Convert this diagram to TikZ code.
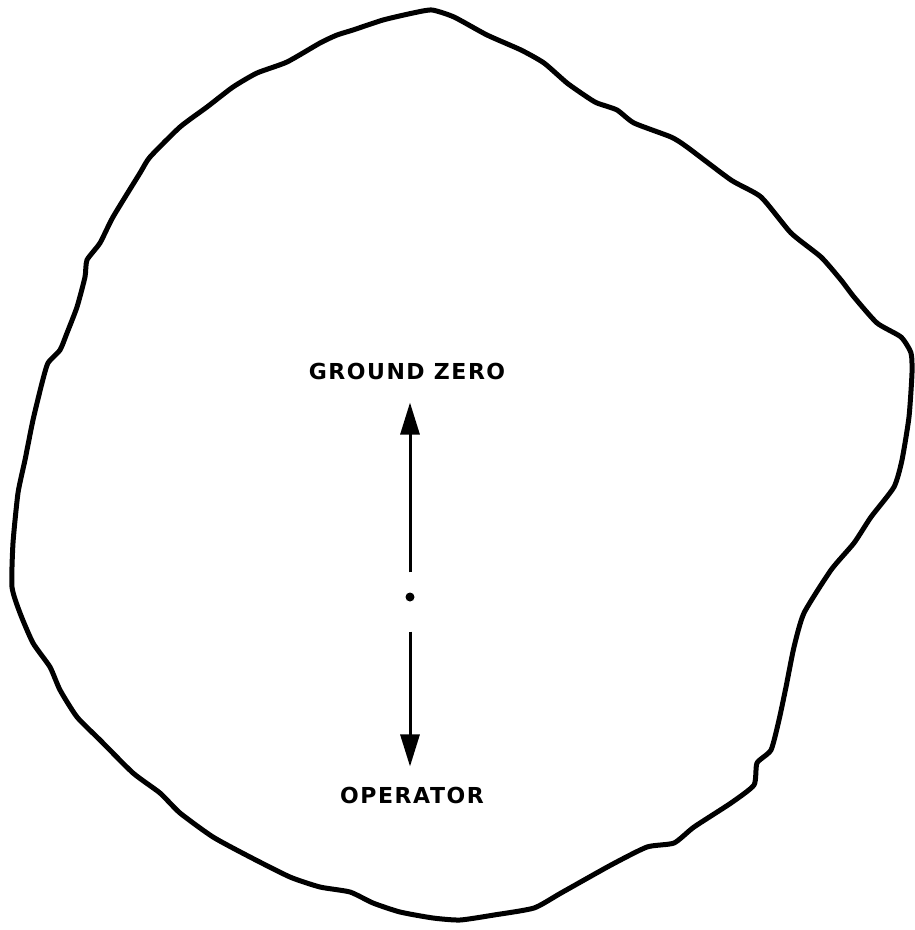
\documentclass[tikz,border=0pt]{standalone}
\usepackage{fontspec}
\usepackage{tikz}
\usetikzlibrary{arrows.meta,positioning}
\newfontfamily\lblfont{DejaVu Sans}[LetterSpace=7]

\begin{document}
\begin{tikzpicture}[
  x=1pt, y=-1pt,
  outline/.style={line width=5pt, line join=round},
  lbl/.style={font=\lblfont\bfseries\fontsize{22}{22}\selectfont, inner sep=0pt},
  arrow/.style={-{Triangle[length=32pt,width=19pt]}, line width=3pt},
]
  \useasboundingbox (0,0) rectangle (914,930);
  % irregular boundary
  \draw[outline] plot[smooth cycle, tension=0.35] coordinates {
    (432,10) (454,17) (487,35) (521,50) (544,63) (567,83) (587,97) (597,103)
    (617,110) (634,123) (671,137) (687,147) (731,180) (761,197) (791,233)
    (821,257) (841,280) (854,297) (877,323) (901,337) (911,353) (912,373)
    (909,417) (902,460) (894,487) (871,517) (854,543) (831,570) (804,613)
    (794,647) (786,687) (779,720) (771,750) (757,763) (754,785) (731,803)
    (694,827) (674,843) (647,847) (611,865) (561,893) (534,908) (494,915)
    (460,920) (433,918) (400,912) (373,903) (350,892) (320,887) (290,877)
    (250,857) (213,837) (180,813) (160,793) (133,773) (100,740) (77,717)
    (60,690) (50,667) (33,643) (20,613) (12,587) (13,543) (18,493) (25,460)
    (33,420) (42,383) (48,363) (60,350) (67,333) (77,307) (85,277) (87,260)
    (100,243) (113,217) (140,173) (150,157) (180,127) (207,107) (233,87)
    (257,73) (287,62) (320,43) (337,35) (353,30) (383,20) (413,13)};

  \node[circle, fill, inner sep=0pt, minimum size=9pt] (dot) at (410,597) {};
  \node[lbl] (gz) at (407,371) {GROUND ZERO};
  \node[lbl] (op) at (412,795) {OPERATOR};

  \draw[arrow, shorten <=20pt, shorten >=23pt] (dot) -- (dot |- gz.south);
  \draw[arrow, shorten <=30pt, shorten >=20pt] (dot) -- (dot |- op.north);
\end{tikzpicture}
\end{document}
